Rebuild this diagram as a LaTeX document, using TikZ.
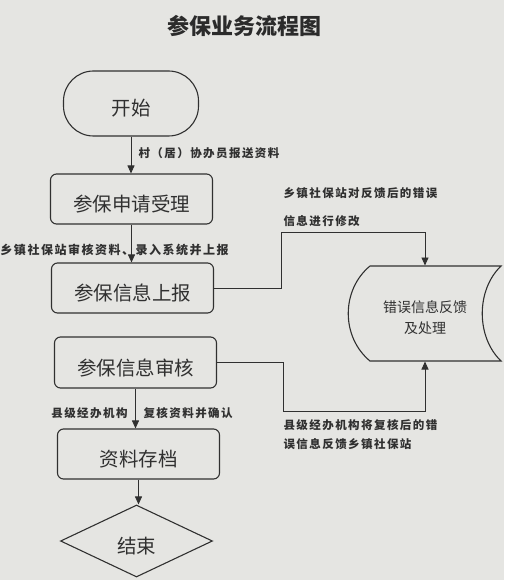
\documentclass[tikz,border=0pt]{standalone}
\usepackage{fontspec}
\setmainfont{Noto Sans CJK SC}
\newfontfamily\cjklbl[LetterSpace=12.5]{Noto Sans CJK SC}
\usetikzlibrary{shapes.geometric,arrows.meta}
\definecolor{paper}{RGB}{229,229,226}
\definecolor{ink}{RGB}{48,48,48}
\tikzset{
  box/.style={draw=ink, line width=1.1pt, rounded corners=6pt, minimum width=162pt, minimum height=50pt,
    inner sep=0pt, font=\fontsize{19.5}{22}\selectfont, text height=25pt, text depth=0pt, text=ink},
  arr/.style={draw=ink, line width=0.9pt, -{Triangle[length=8pt,width=7pt]}},
  lbl/.style={inner sep=0pt, text=ink},
  lblfont/.style={font=\cjklbl\bfseries\fontsize{11.5}{14}\selectfont}
}
\begin{document}
\begin{tikzpicture}[x=1pt,y=-1pt,line width=1pt]
\fill[paper] (0,0) rectangle (504,580);
\useasboundingbox (0,0) rectangle (504,580);

\node[text=ink!90!black, font=\bfseries\fontsize{22}{26}\selectfont, inner sep=0pt] (title) at (244,26) {参保业务流程图};

\node[box, rounded corners=30pt, minimum width=135pt, minimum height=65pt] (ks) at (131,103.5) {开始};
\node[box] (sq) at (131.5,199) {参保申请受理};
\node[box] (sb) at (132.5,288) {参保信息上报};
\node[box, minimum height=51pt] (sh) at (135.5,362.5) {参保信息审核};
\node[box] (cd) at (138.5,454) {资料存档};
\node[box, shape=diamond, rounded corners=0pt, minimum width=152pt, minimum height=72pt] (end) at (136.5,541) {结束};

% storage shape
\node[minimum width=152pt, minimum height=95pt, inner sep=0pt,
  label={[yshift=-4pt, align=center, text=ink, font=\fontsize{14}{21}\selectfont]center:错误信息反馈\\及处理}] (err) at (425,313.5) {};
\draw[ink, line width=1.1pt] (370,266) -- (501,266) .. controls (476,290) and (476,337) .. (501,361)
  -- (370,361) .. controls (341,337) and (341,290) .. (370,266);

% vertical flow
\draw[arr] (ks.south) -- (ks.south |- sq.north);
\node[lbl, lblfont, anchor=west] (l1) at (138,153) {村（居）协办员报送资料};
\draw[arr] (sq.south) -- (sq.south |- sb.north);
\node[lbl, font=\cjklbl\bfseries\fontsize{12}{14}\selectfont, anchor=west] (l2) at (0,250) {乡镇社保站审核资料、录入系统并上报};
\draw[arr] (sh.south) -- (sh.south |- cd.north);
\node[lbl, lblfont, anchor=east] (l3) at (128,413) {县级经办机构};
\node[lbl, lblfont, anchor=west] (l4) at (143,413) {复核资料并确认};
\draw[arr] (cd.south) -- (cd.south |- end.north);

% right side loops
\coordinate (c1) at (281,232);
\draw[arr] (sb.east) -| (c1) -| (err.north);
\node[lbl, anchor=west, align=left, font=\cjklbl\bfseries\fontsize{11.5}{28}\selectfont] (l5) at (283,207) {乡镇社保站对反馈后的错误\\信息进行修改};
\coordinate (c2) at (283,411);
\draw[arr] (sh.east) -| (c2) -| (err.south);
\node[lbl, anchor=west, align=left, font=\cjklbl\bfseries\fontsize{11.5}{19}\selectfont] (l6) at (283,434.5) {县级经办机构将复核后的错\\误信息反馈乡镇社保站};
\end{tikzpicture}
\end{document}
